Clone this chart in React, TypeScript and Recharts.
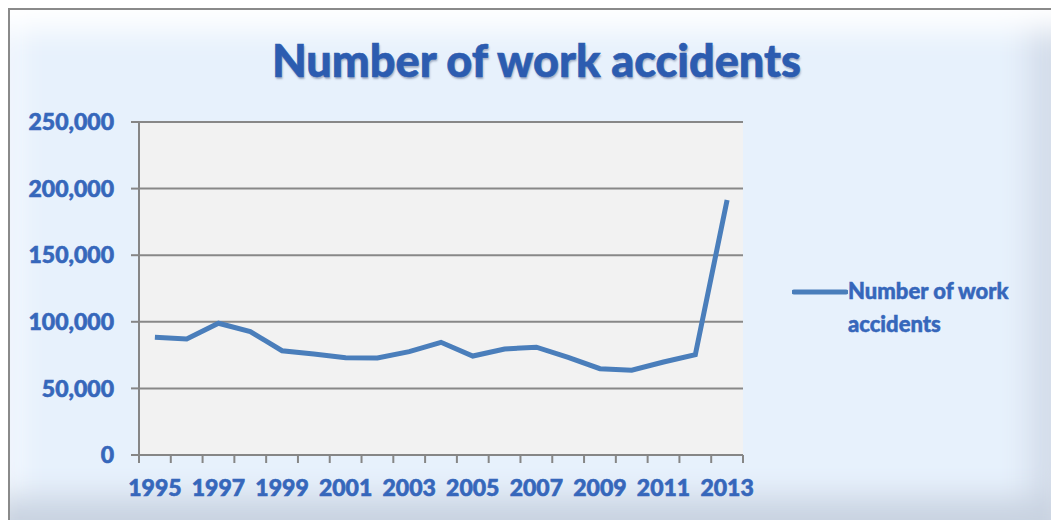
import { CartesianGrid, Legend, Line, LineChart, XAxis, YAxis } from "recharts";

const years = [
  "1995", "1996", "1997", "1998", "1999", "2000", "2001", "2002", "2003", "2004",
  "2005", "2006", "2007", "2008", "2009", "2010", "2011", "2012", "2013",
];
const accidents = [
  88400, 87100, 98900, 92600, 78300, 75800, 73000, 72800, 77600, 84600,
  74300, 79600, 80900, 73300, 64800, 63600, 69800, 75300, 191400,
];
const yTicks = [0, 50000, 100000, 150000, 200000, 250000];
const seriesName = "Number of work accidents";
const title = "Number of work accidents";

const data = years.map((year, i) => ({ year, value: accidents[i] }));

const W = 1043;
const H = 512;
const margin = { top: 114, right: 48, bottom: 25, left: 0 };
const PLOT_BOTTOM = 447;
const HALF_BAND = 604 / years.length / 2;
const LINE_BLUE = "#4a7ebb";
const TEXT_BLUE = "#3667bb";
const FONT = "Lato, 'Open Sans', sans-serif";

function YearTick(props: any) {
  const { x, index, payload } = props;
  const last = index === years.length - 1;
  return (
    <g>
      <line x1={x - HALF_BAND} x2={x - HALF_BAND} y1={PLOT_BOTTOM} y2={PLOT_BOTTOM + 8} stroke="#868686" strokeWidth={2} />
      {last && (
        <line x1={x + HALF_BAND} x2={x + HALF_BAND} y1={PLOT_BOTTOM} y2={PLOT_BOTTOM + 8} stroke="#868686" strokeWidth={2} />
      )}
      {index % 2 === 0 && (
        <text
          x={x}
          y={PLOT_BOTTOM + 41}
          textAnchor="middle"
          fill={TEXT_BLUE}
          stroke={TEXT_BLUE}
          strokeWidth={0.6}
          fontFamily={FONT}
          fontWeight={900}
          fontSize={23}
        >
          {payload.value}
        </text>
      )}
    </g>
  );
}

function LegendBox() {
  return (
    <div style={{ display: "flex", alignItems: "flex-start", fontFamily: FONT }}>
      <svg width={56} height={20} style={{ marginTop: 8 }}>
        <line x1={2} x2={54} y1={10} y2={10} stroke={LINE_BLUE} strokeWidth={5} strokeLinecap="round" />
      </svg>
      <div
        style={{
          width: 175,
          color: TEXT_BLUE,
          fontWeight: 900,
          fontSize: 22,
          lineHeight: "33px",
          WebkitTextStroke: `0.5px ${TEXT_BLUE}`,
        }}
      >
        {seriesName}
      </div>
    </div>
  );
}

export default function App() {
  return (
    <div
      style={{
        position: "fixed",
        left: 8,
        top: 8,
        width: W,
        height: H,
        overflow: "hidden",
        boxSizing: "border-box",
        borderLeft: "2px solid #8a8a8a",
        borderTop: "2px solid #8a8a8a",
        background: "#e7f1fc",
        boxShadow:
          "inset 0 40px 30px -20px #ffffff, inset 0 -40px 30px -18px #c8d2e0, inset -40px 0 30px -18px #d3dcea, inset 28px 0 24px -16px #f4f9ff",
      }}
    >
      <div
        style={{
          position: "absolute",
          left: 0,
          width: W + 10,
          top: 23,
          textAlign: "center",
          fontFamily: FONT,
          fontWeight: 900,
          fontSize: 45,
          color: "#2c5cb0",
          WebkitTextStroke: "0.6px #2c5cb0",
          textShadow: "1px 2px 2px rgba(20,40,90,0.35)",
        }}
      >
        {title}
      </div>
      <div style={{ position: "absolute", left: -2, top: -2 }}>
        <LineChart width={W} height={H} data={data} margin={margin}>
          <CartesianGrid
            vertical={false}
            stroke="#888888"
            strokeWidth={2}
            fill="#f2f2f2"
            fillOpacity={1}
          />
          <XAxis
            dataKey="year"
            interval={0}
            height={40}
            padding={{ left: HALF_BAND, right: HALF_BAND }}
            axisLine={{ stroke: "#868686", strokeWidth: 2 }}
            tickLine={false}
            tick={<YearTick />}
          />
          <YAxis
            width={131}
            domain={[0, 250000]}
            ticks={yTicks}
            interval={0}
            tickSize={8}
            tickMargin={17}
            axisLine={{ stroke: "#868686", strokeWidth: 2 }}
            tickLine={{ stroke: "#868686", strokeWidth: 2 }}
            tickFormatter={(v) => Number(v).toLocaleString("en-US")}
            tick={{
              fill: TEXT_BLUE,
              stroke: TEXT_BLUE,
              strokeWidth: 0.6,
              fontFamily: FONT,
              fontWeight: 900,
              fontSize: 23,
            }}
          />
          <Legend
            layout="vertical"
            align="right"
            verticalAlign="middle"
            content={<LegendBox />}
            wrapperStyle={{ width: 260, left: 784, right: undefined, top: 266 }}
          />
          <Line
            type="linear"
            dataKey="value"
            name={seriesName}
            stroke={LINE_BLUE}
            strokeWidth={5}
            dot={false}
            isAnimationActive={false}
          />
        </LineChart>
      </div>
    </div>
  );
}
